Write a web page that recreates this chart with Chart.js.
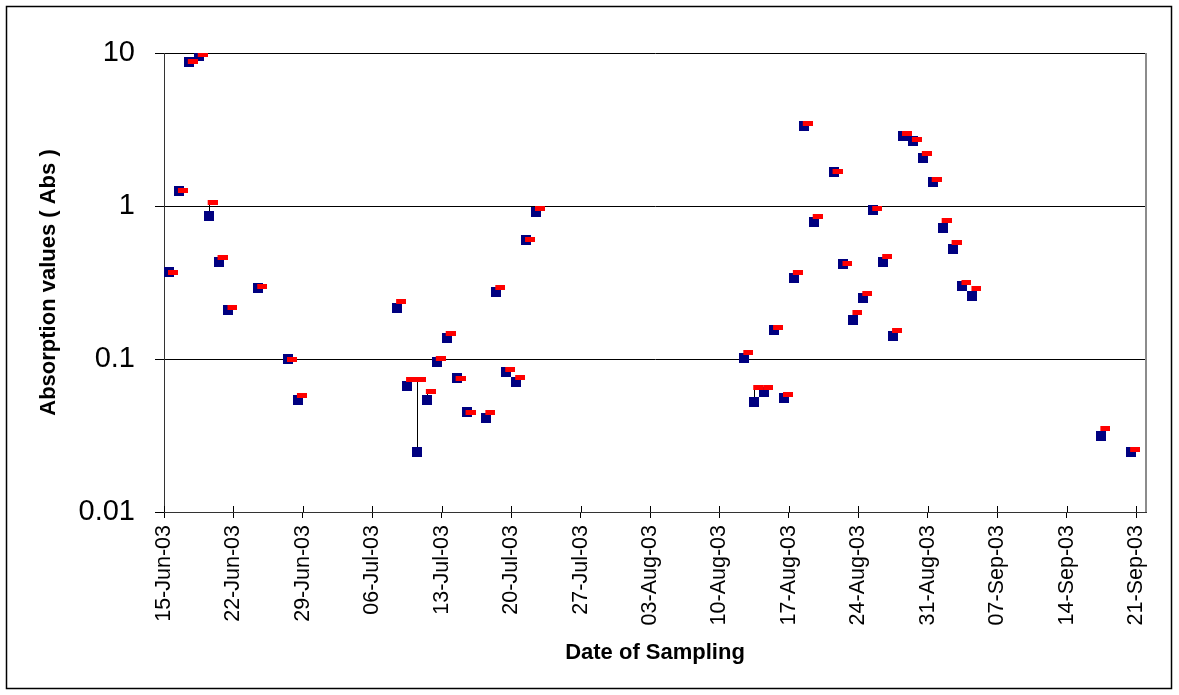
<!DOCTYPE html>
<html>
<head>
<meta charset="utf-8">
<script src="https://cdn.jsdelivr.net/npm/chart.js@4.4.1/dist/chart.umd.min.js"></script>
<style>
  html, body { margin: 0; padding: 0; background: #fff; }
  #wrap { width: 1179px; height: 695px; }
</style>
</head>
<body>
<div id="wrap"><canvas id="chart" width="1179" height="695"></canvas></div>
<script>
  // sampling window shown on the axis
  const START_DATE = '2003-06-15';
  const END_DATE = '2003-09-21';

  const sampleDates = [
    '2003-06-15', '2003-06-16', '2003-06-17', '2003-06-18', '2003-06-19', '2003-06-20', '2003-06-21',
    '2003-06-24', '2003-06-27', '2003-06-28',
    '2003-07-08', '2003-07-09', '2003-07-10', '2003-07-11', '2003-07-12', '2003-07-13', '2003-07-14',
    '2003-07-15', '2003-07-17', '2003-07-18', '2003-07-19', '2003-07-20', '2003-07-21', '2003-07-22',
    '2003-08-12', '2003-08-13', '2003-08-14', '2003-08-15', '2003-08-16', '2003-08-17', '2003-08-18',
    '2003-08-19', '2003-08-21', '2003-08-22', '2003-08-23', '2003-08-24', '2003-08-25', '2003-08-26',
    '2003-08-27', '2003-08-28', '2003-08-29', '2003-08-30', '2003-08-31', '2003-09-01', '2003-09-02',
    '2003-09-03', '2003-09-04', '2003-09-17', '2003-09-20'
  ];

  // navy squares
  const absSeriesA = [
    0.37, 1.26, 8.7, 9.5, 0.86, 0.43, 0.21,
    0.29, 0.10, 0.054,
    0.216, 0.067, 0.0246, 0.054, 0.096, 0.137, 0.075,
    0.045, 0.041, 0.275, 0.082, 0.071, 0.60, 0.92,
    0.102, 0.052, 0.061, 0.155, 0.056, 0.34, 3.34,
    0.79, 1.67, 0.42, 0.18, 0.25, 0.94, 0.43,
    0.142, 2.87, 2.64, 2.05, 1.44, 0.72, 0.52,
    0.30, 0.26, 0.0315, 0.0246
  ];

  // red dashes
  const absSeriesB = [
    0.37, 1.27, 8.8, 9.8, 1.06, 0.46, 0.216,
    0.30, 0.10, 0.0575,
    0.236, 0.073, 0.073, 0.061, 0.101, 0.146, 0.075,
    0.045, 0.045, 0.292, 0.085, 0.076, 0.60, 0.97,
    0.111, 0.065, 0.065, 0.160, 0.059, 0.37, 3.44,
    0.86, 1.67, 0.42, 0.20, 0.267, 0.97, 0.47,
    0.154, 2.96, 2.71, 2.19, 1.48, 0.81, 0.58,
    0.318, 0.29, 0.0353, 0.0255
  ];

  const xTickLabels = [
    '15-Jun-03', '22-Jun-03', '29-Jun-03', '06-Jul-03', '13-Jul-03', '20-Jul-03', '27-Jul-03',
    '03-Aug-03', '10-Aug-03', '17-Aug-03', '24-Aug-03', '31-Aug-03', '07-Sep-03', '14-Sep-03', '21-Sep-03'
  ];
  const yTickValues = [0.01, 0.1, 1, 10];
  const yTickLabels = ['0.01', '0.1', '1', '10'];

  const FONT = "'Liberation Sans', Arial, sans-serif";
  const MONTHS = ['Jan', 'Feb', 'Mar', 'Apr', 'May', 'Jun', 'Jul', 'Aug', 'Sep', 'Oct', 'Nov', 'Dec'];

  function isoToUTC(s) {
    const p = s.split('-').map(Number);
    return Date.UTC(p[0], p[1] - 1, p[2]);
  }
  function labelToUTC(l) {
    const p = l.split('-');
    return Date.UTC(2000 + Number(p[2]), MONTHS.indexOf(p[1]), Number(p[0]));
  }
  const t0 = isoToUTC(START_DATE);
  const dayOf = ms => Math.round((ms - t0) / 86400000);

  // each day is a category band; ticks sit on the band edges
  const xMin = -0.5;
  const xMax = dayOf(isoToUTC(END_DATE)) + 0.5;

  const ptsA = sampleDates.map((d, i) => ({ x: dayOf(isoToUTC(d)), y: absSeriesA[i] }));
  const ptsB = sampleDates.map((d, i) => ({ x: dayOf(isoToUTC(d)), y: absSeriesB[i] }));

  function marker(w, h, dx, color) {
    const c = document.createElement('canvas');
    c.width = w + 2 * dx;
    c.height = h;
    const g = c.getContext('2d');
    g.fillStyle = color;
    g.fillRect(2 * dx, 0, w, h);
    return c;
  }
  const squareNavy = marker(10, 10, 0, '#000080');
  const dashRed = marker(10, 5, 4, '#ff0000');

  // thin line between the two series at each date
  const highLow = {
    id: 'highLow',
    beforeDatasetsDraw(chart) {
      const { ctx, scales: { x, y } } = chart;
      ctx.save();
      ctx.strokeStyle = '#000';
      ctx.lineWidth = 1;
      ptsA.forEach((p, i) => {
        const px = Math.round(x.getPixelForValue(p.x)) + 0.5;
        ctx.beginPath();
        ctx.moveTo(px, y.getPixelForValue(p.y));
        ctx.lineTo(px, y.getPixelForValue(ptsB[i].y));
        ctx.stroke();
      });
      ctx.restore();
    }
  };

  const frame = {
    id: 'frame',
    afterDraw(chart) {
      const { ctx, chartArea: a, scales: { x } } = chart;
      ctx.save();
      // inner half of x tick marks
      ctx.strokeStyle = '#000';
      ctx.lineWidth = 1;
      x.ticks.forEach(t => {
        const px = Math.round(x.getPixelForValue(t.value)) + 0.5;
        ctx.beginPath();
        ctx.moveTo(px, a.bottom - 6);
        ctx.lineTo(px, a.bottom);
        ctx.stroke();
      });
      // plot area right edge
      ctx.strokeStyle = '#8c8c8c';
      ctx.lineWidth = 2;
      ctx.beginPath();
      ctx.moveTo(a.right, a.top);
      ctx.lineTo(a.right, a.bottom);
      ctx.stroke();
      // outer chart border
      ctx.strokeStyle = '#000';
      ctx.lineWidth = 1.5;
      ctx.strokeRect(6.5, 6.5, 1165, 682);
      ctx.restore();
    }
  };

  new Chart(document.getElementById('chart'), {
    type: 'scatter',
    plugins: [highLow, frame],
    data: {
      datasets: [
        { data: ptsB, pointStyle: dashRed, pointRadius: 6, order: 1, showLine: false },
        { data: ptsA, pointStyle: squareNavy, pointRadius: 6, order: 2, showLine: false }
      ]
    },
    options: {
      responsive: false,
      animation: false,
      devicePixelRatio: 1,
      layout: { padding: { left: 0, top: 53, right: 33, bottom: 0 } },
      plugins: { legend: { display: false }, tooltip: { enabled: false } },
      scales: {
        x: {
          type: 'linear',
          min: xMin,
          max: xMax,
          afterBuildTicks: s => {
            s.ticks = xTickLabels.map(l => ({ value: dayOf(labelToUTC(l)) - 0.5 }));
          },
          afterFit: s => { s.height = 183; },
          grid: { display: true, drawOnChartArea: false, tickLength: 6, color: '#000' },
          border: { display: true, color: '#333', width: 1 },
          ticks: {
            autoSkip: false,
            maxRotation: 90,
            minRotation: 90,
            padding: 7,
            color: '#000',
            font: { family: FONT, size: 21.5 },
            callback: (v, i) => xTickLabels[i]
          },
          title: {
            display: true,
            text: 'Date of Sampling',
            color: '#000',
            font: { family: FONT, size: 22, weight: 'bold' },
            padding: { top: 0, bottom: 29 }
          }
        },
        y: {
          type: 'logarithmic',
          min: 0.01,
          max: 10,
          afterBuildTicks: s => { s.ticks = yTickValues.map(v => ({ value: v })); },
          afterFit: s => { s.width = 164; },
          grid: { color: '#000', lineWidth: 1, tickLength: 9 },
          border: { display: true, color: '#333', width: 1 },
          ticks: {
            padding: 20,
            color: '#000',
            font: { family: FONT, size: 29 },
            callback: (v, i) => yTickLabels[i]
          },
          title: {
            display: true,
            text: 'Absorption values ( Abs )',
            color: '#000',
            font: { family: FONT, size: 22, weight: 'bold' },
            padding: { top: 36, bottom: 0 }
          }
        }
      }
    }
  });
</script>
</body>
</html>
